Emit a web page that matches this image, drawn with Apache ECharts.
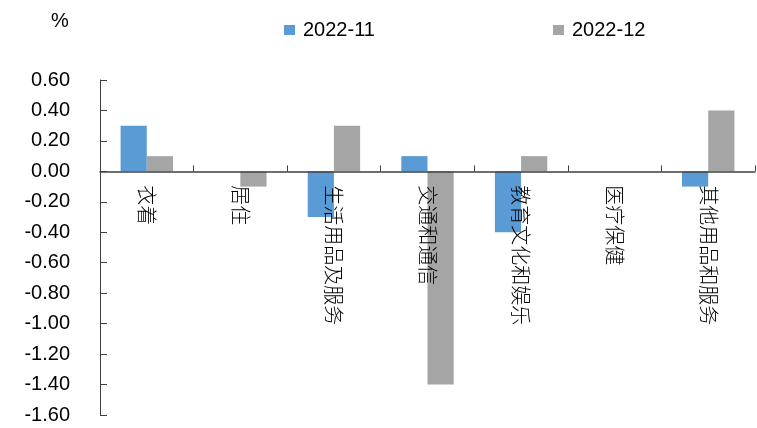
<!DOCTYPE html>
<html>
<head>
<meta charset="utf-8">
<script src="https://cdn.jsdelivr.net/npm/echarts@6/dist/echarts.min.js"></script>
<style>
  html, body { margin: 0; padding: 0; background: #fff; }
  #chart { width: 757px; height: 428px; }
</style>
</head>
<body>
<div id="chart"></div>
<script>
const categories = ['衣着', '居住', '生活用品及服务', '交通和通信', '教育文化和娱乐', '医疗保健', '其他用品和服务']
const nov = [0.3, 0, -0.3, 0.1, -0.4, 0, -0.1]
const dec = [0.1, -0.1, 0.3, -1.4, 0.1, 0, 0.4]
const seriesNames = ['2022-11', '2022-12']
const yMin = -1.6
const yMax = 0.6

const chart = echarts.init(document.getElementById('chart'), null, { renderer: 'canvas' })

const legendText = { color: '#000', fontSize: 20, fontFamily: 'Liberation Sans', padding: [0, 0, 0, 3] }
const gridTop = 80
const gridBottom = 13
const gridH = 428 - gridTop - gridBottom
// category labels sit under the zero line, not at the bottom of the grid
const zeroOffset = -(gridH * (0 - yMin) / (yMax - yMin))

const option = {
  animation: false,
  title: {
    text: '%',
    left: 46,
    top: 6,
    textStyle: { color: '#000', fontSize: 20, fontWeight: 'normal', fontFamily: 'Liberation Sans' },
  },
  legend: [
    { data: [seriesNames[0]], left: 284, top: 20, padding: 0, itemWidth: 11, itemHeight: 10, icon: 'rect', textStyle: legendText },
    { data: [seriesNames[1]], left: 553, top: 20, padding: 0, itemWidth: 11, itemHeight: 10, icon: 'rect', textStyle: legendText },
  ],
  grid: { left: 100, right: 2, top: gridTop, bottom: gridBottom, containLabel: false, outerBoundsMode: 'none' },
  xAxis: [
    {
      type: 'category',
      data: categories,
      z: 10,
      axisLine: { onZero: true, lineStyle: { color: '#404040', width: 1.5 } },
      axisTick: { show: true, inside: true, length: 6, interval: 0, lineStyle: { color: '#404040' } },
      axisLabel: { show: false },
    },
    {
      type: 'category',
      data: categories,
      position: 'bottom',
      offset: zeroOffset,
      z: 10,
      axisLine: { show: false, onZero: false },
      axisTick: { show: false },
      axisLabel: {
        interval: 0,
        rotate: -90,
        margin: 14,
        color: '#000',
        fontSize: 20,
        fontWeight: 300,
        fontFamily: 'Noto Sans CJK SC',
      },
    },
  ],
  yAxis: {
    type: 'value',
    min: yMin,
    max: yMax,
    interval: 0.2,
    axisLine: { show: true, lineStyle: { color: '#404040' } },
    axisTick: { show: true, inside: true, length: 7, lineStyle: { color: '#404040' } },
    splitLine: { show: false },
    axisLabel: {
      color: '#000',
      fontSize: 20,
      fontFamily: 'Liberation Sans',
      margin: 30,
      hideOverlap: false,
      formatter: v => v.toFixed(2),
    },
  },
  series: [
    { name: seriesNames[0], type: 'bar', data: nov, color: '#5B9BD5', barWidth: '28%', barGap: '0%' },
    { name: seriesNames[1], type: 'bar', data: dec, color: '#A5A5A5', barWidth: '28%', barGap: '0%' },
  ],
}

chart.setOption(option)
</script>
</body>
</html>
